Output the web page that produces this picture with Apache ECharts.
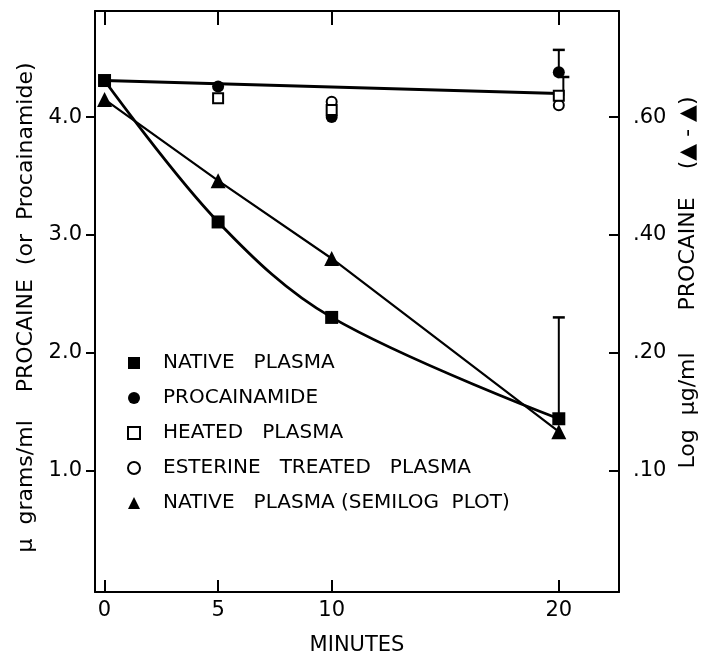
<!DOCTYPE html>
<html>
<head>
<meta charset="utf-8">
<script src="https://cdn.jsdelivr.net/npm/echarts@6/dist/echarts.min.js"></script>
<style>
html,body{margin:0;padding:0;background:#fff;}
#chart{width:703px;height:657px;}
</style>
</head>
<body>
<div id="chart"></div>
<script>
// ---- data ----
const minutes = [0, 5, 10, 20];
const nativePlasma = [4.31, 3.11, 2.30, 1.44];
const semilogPlasma = [4.15, 3.46, 2.80, 1.33];
const procainamideX = [5, 10, 20];
const procainamide = [4.26, 4.00, 4.38];
const heatedX = [5, 10, 20];
const heatedPlasma = [4.16, 4.06, 4.18];
const esterineX = [10, 20];
const esterinePlasma = [4.13, 4.10];
const procFitX = [0, 20];
const procFitY = [4.31, 4.20];
const errX = [20, 20, 20.2];
const errLow = [1.45, 4.38, 4.18];
const errHigh = [2.30, 4.57, 4.34];
const xTicks = [0, 5, 10, 20];
const yTicks = [1, 2, 3, 4];
const yTickLabels = ['1.0', '2.0', '3.0', '4.0'];
const logTickLabels = ['.10', '.20', '.40', '.60'];
const seriesNames = ['NATIVE   PLASMA', 'PROCAINAMIDE', 'HEATED   PLASMA', 'ESTERINE   TREATED   PLASMA', 'NATIVE   PLASMA (SEMILOG  PLOT)'];

const zip = (xs, ys) => xs.map((x, i) => [x, ys[i]]);
const FONT = 'DejaVu Sans';
const black = '#000';

const chart = echarts.init(document.getElementById('chart'), null, {renderer: 'canvas'});

const axisCommonY = {
  type: 'value', min: -0.03, max: 4.9,
  axisLine: {show: true, onZero: false, lineStyle: {color: black, width: 2}},
  splitLine: {show: false},
  nameLocation: 'middle', nameRotate: 90, nameMoveOverlap: false,
};

const option = {
  backgroundColor: '#fff',
  animation: false,
  grid: {left: 95, right: 84, top: 11, bottom: 65, containLabel: false, outerBoundsMode: 'none'},
  xAxis: [
    {
      type: 'value', min: -0.42, max: 22.65, position: 'bottom',
      axisLine: {show: true, onZero: false, lineStyle: {color: black, width: 2}},
      axisTick: {show: true, inside: true, length: 12, customValues: xTicks, lineStyle: {color: black, width: 2}},
      axisLabel: {show: true, customValues: xTicks, margin: 8, color: black, fontFamily: FONT, fontSize: 21},
      splitLine: {show: false},
      name: 'MINUTES', nameLocation: 'middle', nameGap: 43, nameMoveOverlap: false,
      nameTextStyle: {color: black, fontFamily: FONT, fontSize: 21}
    },
    {
      type: 'value', min: -0.42, max: 22.65, position: 'top',
      axisLine: {show: true, onZero: false, lineStyle: {color: black, width: 2}},
      axisTick: {show: true, inside: true, length: 14, customValues: xTicks, lineStyle: {color: black, width: 2}},
      axisLabel: {show: false},
      splitLine: {show: false}
    }
  ],
  yAxis: [
    Object.assign({}, axisCommonY, {
      position: 'left',
      axisTick: {show: true, inside: false, length: 9, customValues: yTicks, lineStyle: {color: black, width: 2}},
      axisLabel: {show: true, customValues: yTicks, margin: 13, color: black, fontFamily: FONT, fontSize: 21,
        formatter: v => yTickLabels[yTicks.indexOf(Math.round(v))] || ''},
      name: 'μ  grams/ml    PROCAINE  (or  Procainamide)', nameGap: 58,
      nameTextStyle: {color: black, fontFamily: FONT, fontSize: 22, padding: [0, 12, 0, 0]}
    }),
    Object.assign({}, axisCommonY, {
      position: 'right',
      axisTick: {show: true, inside: true, length: 10, customValues: yTicks, lineStyle: {color: black, width: 2}},
      axisLabel: {show: true, customValues: yTicks, margin: 14, color: black, fontFamily: FONT, fontSize: 21,
        formatter: v => logTickLabels[yTicks.indexOf(Math.round(v))] || ''},
      name: 'Log  μg/ml      PROCAINE    (▲ - ▲)', nameGap: 58,
      nameTextStyle: {color: black, fontFamily: FONT, fontSize: 22, padding: [0, 0, 0, 38]}
    })
  ],
  legend: {
    show: true, orient: 'vertical', left: 127, top: 353, padding: 0,
    itemWidth: 12, itemHeight: 12, itemGap: 15,
    data: seriesNames,
    textStyle: {color: black, fontFamily: FONT, fontSize: 20, padding: [0, 0, 0, 18]},
    selectedMode: false
  },
  series: [
    {
      type: 'line', name: 'fit-proc', data: zip(procFitX, procFitY), showSymbol: false, symbol: 'none',
      lineStyle: {color: black, width: 3}, z: 2, silent: true
    },
    {
      type: 'line', name: 'fit-semilog', data: zip(minutes, semilogPlasma), showSymbol: false, symbol: 'none',
      lineStyle: {color: black, width: 2.2}, z: 2, silent: true
    },
    {
      type: 'line', name: 'fit-native', data: zip(minutes, nativePlasma), showSymbol: false, symbol: 'none',
      smooth: 0.35, lineStyle: {color: black, width: 2.8}, z: 2, silent: true
    },
    {
      type: 'custom', name: 'errorbars', z: 3, silent: true,
      data: errX.map((x, i) => [x, errLow[i], errHigh[i]]),
      renderItem: function (params, api) {
        const lo = api.coord([api.value(0), api.value(1)]);
        const hi = api.coord([api.value(0), api.value(2)]);
        return {
          type: 'group',
          children: [
            {type: 'line', shape: {x1: lo[0], y1: lo[1], x2: hi[0], y2: hi[1]}, style: {stroke: black, lineWidth: 2}},
            {type: 'line', shape: {x1: hi[0] - 6, y1: hi[1], x2: hi[0] + 6, y2: hi[1]}, style: {stroke: black, lineWidth: 2.5}}
          ]
        };
      }
    },
    {
      type: 'scatter', name: seriesNames[3], data: zip(esterineX, esterinePlasma),
      symbol: 'circle', symbolSize: 10, z: 4,
      itemStyle: {color: '#fff', borderColor: black, borderWidth: 2, opacity: 1}
    },
    {
      type: 'scatter', name: seriesNames[1], data: zip(procainamideX, procainamide),
      symbol: 'circle', symbolSize: 12, z: 4,
      itemStyle: {color: black, opacity: 1}
    },
    {
      type: 'scatter', name: seriesNames[2], data: zip(heatedX, heatedPlasma),
      symbol: 'rect', symbolSize: 10, z: 5,
      itemStyle: {color: '#fff', borderColor: black, borderWidth: 2, opacity: 1}
    },
    {
      type: 'scatter', name: seriesNames[4], data: zip(minutes, semilogPlasma),
      symbol: 'triangle', symbolSize: 15, z: 5,
      itemStyle: {color: black, opacity: 1}
    },
    {
      type: 'scatter', name: seriesNames[0], data: zip(minutes, nativePlasma),
      symbol: 'rect', symbolSize: 13, z: 6,
      itemStyle: {color: black, opacity: 1}
    }
  ]
};
chart.setOption(option);
</script>
</body>
</html>
